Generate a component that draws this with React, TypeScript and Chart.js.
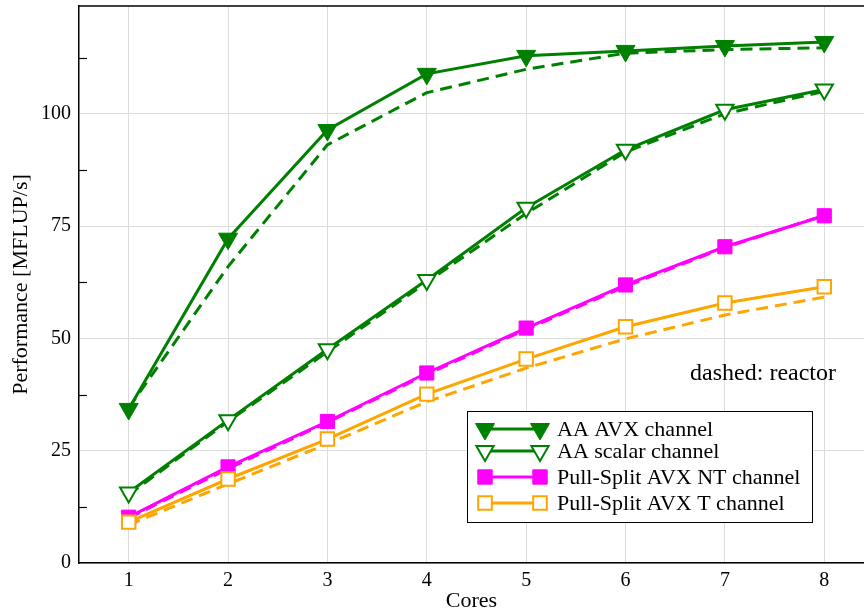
import { useEffect, useRef } from 'react';
import { Chart, registerables } from 'chart.js';

Chart.register(...registerables);

const cores = [1, 2, 3, 4, 5, 6, 7, 8];
const aaAvx = [34.3, 72.2, 96.4, 108.9, 112.9, 114.0, 115.1, 116.0];
const aaAvxReactor = [34.5, 66.0, 93.1, 104.7, 109.9, 113.5, 114.3, 114.7];
const aaScalar = [15.7, 31.8, 47.6, 63.0, 79.1, 92.0, 100.9, 105.4];
const aaScalarReactor = [15.2, 31.5, 47.0, 62.5, 77.8, 91.5, 100.0, 105.0];
const psNt = [10.2, 21.4, 31.5, 42.3, 52.3, 61.9, 70.4, 77.3];
const psNtReactor = [10.0, 21.0, 31.3, 42.0, 52.0, 61.6, 70.2, 77.4];
const psT = [9.1, 18.7, 27.6, 37.6, 45.4, 52.6, 57.9, 61.5];
const psTReactor = [8.5, 17.6, 26.5, 35.9, 43.4, 49.9, 55.2, 59.2];

const yTicks = [0, 25, 50, 75, 100];
const yMinorTicks = [12.5, 37.5, 62.5, 87.5, 112.5];
const legendLabels = [
  'AA AVX channel',
  'AA scalar channel',
  'Pull-Split AVX NT channel',
  'Pull-Split AVX T channel',
];
const noteText = 'dashed: reactor';
const xTitle = 'Cores';
const yTitle = 'Performance [MFLUP/s]';

const GREEN = '#008000';
const MAGENTA = '#ff00ff';
const ORANGE = '#ffa500';
const FONT = "'Liberation Serif', 'Times New Roman', serif";

const toPts = (vals: number[]) => vals.map((v, i) => ({ x: cores[i], y: v }));

export default function App() {
  const ref = useRef<HTMLCanvasElement>(null);

  useEffect(() => {
    const solid = (label: string, data: number[], color: string, style: string, filled: boolean, radius: number, order: number) => ({
      label,
      data: toPts(data),
      borderColor: color,
      borderWidth: 3,
      pointStyle: style,
      pointRotation: style === 'triangle' ? 180 : 0,
      pointRadius: radius,
      pointBackgroundColor: filled ? color : '#ffffff',
      pointBorderColor: color,
      pointBorderWidth: filled ? 1 : 2,
      fill: false,
      tension: 0,
      order,
    });
    const dashed = (label: string, data: number[], color: string, order: number) => ({
      label,
      data: toPts(data),
      borderColor: color,
      borderWidth: 3,
      borderDash: [12, 7],
      pointRadius: 0,
      fill: false,
      tension: 0,
      order,
    });

    const legendItems = [
      { color: GREEN, style: 'tri', filled: true },
      { color: GREEN, style: 'tri', filled: false },
      { color: MAGENTA, style: 'sq', filled: true },
      { color: ORANGE, style: 'sq', filled: false },
    ];

    const drawMarker = (ctx: CanvasRenderingContext2D, x: number, y: number, it: any) => {
      ctx.save();
      ctx.beginPath();
      if (it.style === 'tri') {
        const r = it.filled ? 11 : 10;
        ctx.moveTo(x, y + r);
        ctx.lineTo(x - r * 0.866, y - r * 0.5);
        ctx.lineTo(x + r * 0.866, y - r * 0.5);
        ctx.closePath();
      } else {
        const s = it.filled ? 7.2 : 6.8;
        ctx.rect(x - s, y - s, 2 * s, 2 * s);
      }
      ctx.fillStyle = it.filled ? it.color : '#ffffff';
      ctx.fill();
      ctx.lineWidth = it.filled ? 1 : 2;
      ctx.strokeStyle = it.color;
      ctx.stroke();
      ctx.restore();
    };

    const decor = {
      id: 'decor',
      beforeDatasetsDraw(chart: any) {
        const { ctx, chartArea: ca, scales } = chart;
        ctx.save();
        ctx.strokeStyle = '#000';
        ctx.lineWidth = 1.2;
        yMinorTicks.forEach((v) => {
          const y = Math.round(scales.y.getPixelForValue(v)) + 0.5;
          ctx.beginPath();
          ctx.moveTo(ca.left, y);
          ctx.lineTo(ca.left + 8, y);
          ctx.stroke();
        });
        ctx.lineWidth = 1.5;
        ctx.beginPath();
        ctx.moveTo(ca.left, ca.top);
        ctx.lineTo(ca.right, ca.top);
        ctx.stroke();
        ctx.restore();
      },
      afterDraw(chart: any) {
        const { ctx, chartArea: ca } = chart;
        ctx.save();
        ctx.font = `24px ${FONT}`;
        ctx.fillStyle = '#000';
        ctx.textBaseline = 'middle';
        ctx.textAlign = 'right';
        ctx.fillText(noteText, ca.right - 28, ca.top + 368);

        const bx = ca.left + 388;
        const by = ca.top + 405;
        const bw = 345;
        const bh = 111;
        ctx.fillStyle = '#ffffff';
        ctx.fillRect(bx, by, bw, bh);
        ctx.strokeStyle = '#000';
        ctx.lineWidth = 1;
        ctx.strokeRect(bx + 0.5, by + 0.5, bw, bh);
        const rows = [18, 40, 66, 92];
        ctx.textAlign = 'left';
        ctx.font = `22px ${FONT}`;
        legendItems.forEach((it, i) => {
          const y = by + rows[i];
          const x0 = bx + 18;
          const x1 = bx + 73;
          ctx.beginPath();
          ctx.moveTo(x0, y);
          ctx.lineTo(x1, y);
          ctx.strokeStyle = it.color;
          ctx.lineWidth = 3;
          ctx.stroke();
          drawMarker(ctx, x0, y, it);
          drawMarker(ctx, x1, y, it);
          ctx.fillStyle = '#000';
          ctx.fillText(legendLabels[i], bx + 90, y + 1);
        });
        ctx.restore();
      },
    };

    const chart = new Chart(ref.current as HTMLCanvasElement, {
      type: 'line',
      data: {
        datasets: [
          solid(legendLabels[0], aaAvx, GREEN, 'triangle', true, 11, 4),
          dashed(legendLabels[0] + ' reactor', aaAvxReactor, GREEN, 14),
          solid(legendLabels[1], aaScalar, GREEN, 'triangle', false, 10, 3),
          dashed(legendLabels[1] + ' reactor', aaScalarReactor, GREEN, 13),
          solid(legendLabels[2], psNt, MAGENTA, 'rect', true, 10, 2),
          dashed(legendLabels[2] + ' reactor', psNtReactor, MAGENTA, 12),
          solid(legendLabels[3], psT, ORANGE, 'rect', false, 9.5, 1),
          dashed(legendLabels[3] + ' reactor', psTReactor, ORANGE, 11),
        ] as any,
      },
      options: {
        responsive: false,
        animation: false,
        layout: { autoPadding: false, padding: { top: 6, right: 0, left: 0, bottom: 0 } },
        plugins: {
          legend: { display: false },
          tooltip: { enabled: false },
        },
        scales: {
          x: {
            type: 'linear',
            min: 0.5,
            max: 8.4,
            afterBuildTicks: (s: any) => {
              s.ticks = cores.map((v) => ({ value: v }));
            },
            afterFit: (s: any) => {
              s.height = 52;
              s.paddingLeft = 0;
              s.paddingRight = 0;
            },
            grid: { color: '#dcdcdc', lineWidth: 1, drawTicks: false },
            border: { color: '#000', width: 1.5 },
            ticks: { color: '#000', font: { family: FONT, size: 20 }, padding: 6, maxRotation: 0 },
            title: {
              display: true,
              text: xTitle,
              color: '#000',
              font: { family: FONT, size: 22 },
              padding: { top: 0, bottom: 1 },
            },
          },
          y: {
            type: 'linear',
            min: 0,
            max: 124,
            afterBuildTicks: (s: any) => {
              s.ticks = yTicks.map((v) => ({ value: v }));
            },
            afterFit: (s: any) => {
              s.width = 79;
              s.paddingTop = 0;
              s.paddingBottom = 0;
            },
            grid: { color: '#dcdcdc', lineWidth: 1, drawTicks: false },
            border: { color: '#000', width: 1.5 },
            ticks: { color: '#000', font: { family: FONT, size: 20 }, padding: 8 },
            title: {
              display: true,
              text: yTitle,
              color: '#000',
              font: { family: FONT, size: 22 },
              padding: { top: 8, bottom: 0 },
            },
          },
        },
      },
      plugins: [decor],
    });
    return () => chart.destroy();
  }, []);

  return (
    <div style={{ position: 'fixed', left: 0, top: 0, width: 864, height: 615, background: '#fff' }}>
      <canvas ref={ref} width={864} height={615} style={{ display: 'block' }} />
    </div>
  );
}
